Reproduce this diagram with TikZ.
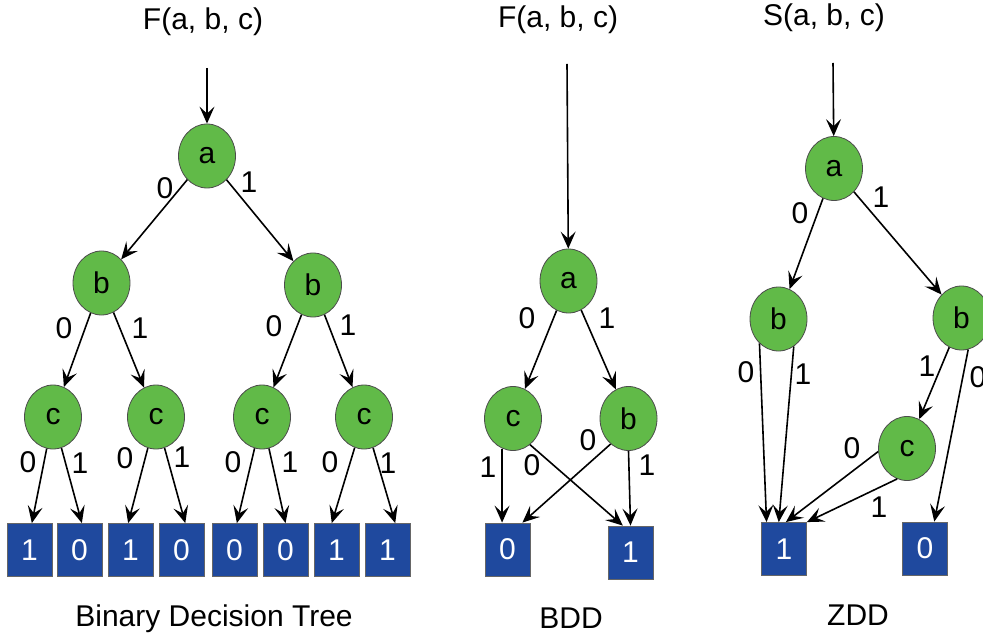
\documentclass[tikz,border=0pt]{standalone}
\usepackage{fontspec}
\setmainfont{Liberation Sans}
\usetikzlibrary{arrows.meta,shapes.geometric}
\definecolor{vargreen}{RGB}{97,186,72}
\definecolor{termblue}{RGB}{31,73,158}

\begin{document}
\begin{tikzpicture}[x=0.5pt,y=-0.5pt,
  font=\fontsize{15}{18}\selectfont,
  var/.style={ellipse,draw=black!70,line width=0.4pt,fill=vargreen,minimum width=28.5pt,minimum height=32pt,inner sep=0pt},
  term/.style={rectangle,draw=black!60,line width=0.4pt,fill=termblue,text=white,minimum width=22.5pt,minimum height=26.5pt,inner sep=0pt},
  edge/.style={-{Stealth[length=8.5pt,width=7.5pt,inset=3.5pt]},line width=0.8pt}]
\useasboundingbox (0,0) rectangle (983,641);

% Binary decision tree
\node (tt) at (203,22) {F(a, b, c)};
\coordinate (tin) at (207,68);
\node[var] (ta) at (207,156) {a};
\node[var] (tb1) at (101.5,283) {b};
\node[var] (tb2) at (313,285) {b};
\node[var] (tc1) at (53,417) {c};
\node[var] (tc2) at (156,417) {c};
\node[var] (tc3) at (262,417) {c};
\node[var] (tc4) at (364,417) {c};
\node[term] (tl1) at (29.5,550) {1};
\node[term] (tl2) at (79.5,550) {0};
\node[term] (tl3) at (130.5,550) {1};
\node[term] (tl4) at (181.5,550) {0};
\node[term] (tl5) at (234.5,550) {0};
\node[term] (tl6) at (285.5,550) {0};
\node[term] (tl7) at (336.5,550) {1};
\node[term] (tl8) at (387.5,550) {1};

\draw[edge] (tin) -- (ta);
\draw[edge] (ta) -- (tb1);
\draw[edge] (ta) -- (tb2);
\draw[edge] (tb1) -- (tc1);
\draw[edge] (tb1) -- (tc2);
\draw[edge] (tb2) -- (tc3);
\draw[edge] (tb2) -- (tc4);
\draw[edge] (tc1) -- (tl1.85);
\draw[edge] (tc1) -- (tl2.85);
\draw[edge] (tc2) -- (tl3.95);
\draw[edge] (tc2) -- (tl4.82);
\draw[edge] (tc3) -- (tl5.85);
\draw[edge] (tc3) -- (tl6.north);
\draw[edge] (tc4) -- (tl7.100);
\draw[edge] (tc4) -- (tl8.74);

% Labels (0 on the left branch, 1 on the right branch)
\node (tla0) at (165,188) {0};
\node (tla1) at (249,182) {1};
\node (tlb10) at (64,328) {0};
\node (tlb11) at (140,328) {1};
\node (tlb20) at (274,326) {0};
\node (tlb21) at (348,325) {1};
\node (tlc10) at (28,462) {0};
\node (tlc11) at (80,463) {1};
\node (tlc20) at (125,458) {0};
\node (tlc21) at (182,457) {1};
\node (tlc30) at (233,462) {0};
\node (tlc31) at (290,462) {1};
\node (tlc40) at (330,462) {0};
\node (tlc41) at (388,463) {1};

\node (tcap) at (214,619) {Binary Decision Tree};

% BDD
\node (bt) at (558,20) {F(a, b, c)};
\coordinate (bin) at (567,64);
\node[var] (ba) at (568.5,281) {a};
\node[var] (bc) at (513,418.5) {c};
\node[var] (bb) at (628.5,418.5) {b};
\node[term] (bz) at (507.5,549.5) {0};
\node[term] (bo) at (630.5,552.5) {1};

\draw[edge] (bin) -- (ba);
\draw[edge] (ba) -- (bc);
\draw[edge] (ba) -- (bb);
\draw[edge] (bc.250) -- (bc.250 |- bz.north);
\draw[edge] (bc.303) -- (bo.106);
\draw[edge] (bb.235) -- (bz.61);
\draw[edge] (bb.south) -- (bo.north);

% Labels
\node (bla0) at (527,318) {0};
\node (bla1) at (607,318) {1};
\node (blc1) at (488,467) {1};
\node (blc0) at (532,465) {0};
\node (blb0) at (588,440) {0};
\node (blb1) at (647,465) {1};

\node (bcap) at (571,618) {BDD};

% ZDD
\node (zt) at (824,18) {S(a, b, c)};
\coordinate (zin) at (833,63);
\node[var] (za) at (834,168.5) {a};
\node[var] (zb1) at (778.5,319) {b};
\node[var] (zb2) at (961.5,318) {b};
\node[var] (zc) at (907,448.5) {c};
\node[term] (zo) at (784,549) {1};
\node[term] (zz) at (925,548.5) {0};

\draw[edge] (zin) -- (za);
\draw[edge] (za) -- (zb1);
\draw[edge] (za) -- (zb2);
\draw[edge] (zb1.232) -- (zo.123);
\draw[edge] (zb1.299) -- (zo.101);
\draw[edge] (zb2) -- (zc);
\draw[edge] (zb2.282) -- (zz.71);
\draw[edge] (zc.186) -- (zo.86);
\draw[edge] (zc.252) -- (zo.north east);

% Labels
\node (zla0) at (800,213) {0};
\node (zla1) at (881,197) {1};
\node (zlb10) at (746,372) {0};
\node (zlb11) at (803,374) {1};
\node (zlb21) at (927,366) {1};
\node (zlb20) at (978,377) {0};
\node (zlc0) at (852,448) {0};
\node (zlc1) at (879,507) {1};

\node (zcap) at (858,615) {ZDD};

\end{tikzpicture}
\end{document}
